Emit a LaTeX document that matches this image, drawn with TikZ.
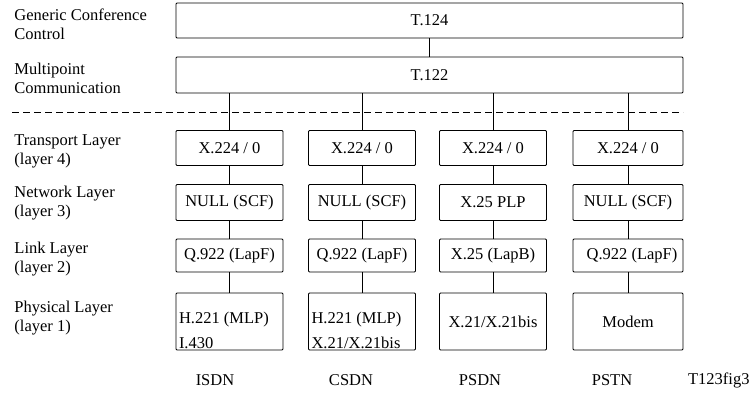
\documentclass[tikz,border=0pt]{standalone}
\usepackage{fontspec}
\setmainfont{Liberation Serif}
\usetikzlibrary{positioning}

\begin{document}
\begin{tikzpicture}[x=1pt, y=-1pt, line width=0.9pt,
	every node/.style={font=\fontsize{16.5}{19}\selectfont},
	proto/.style={draw, rounded corners=1pt, minimum width=107pt, minimum height=35pt, inner sep=2pt},
	phys/.style={proto, minimum height=57pt},
	phystext/.style={anchor=south west, align=left, inner xsep=3pt, inner ysep=1pt, font=\fontsize{16.5}{25}\selectfont},
	layer/.style={anchor=west, align=left, inner sep=0pt},
	net/.style={inner sep=0pt}]
	\useasboundingbox (0,0) rectangle (751,393);
	% Upper part: conference control and multipoint communication
	\node[proto, minimum width=507pt] (t124) at (429.5, 20.5) {T.124};
	\node[proto, minimum width=507pt, minimum height=36pt] (t122) at (429.5, 75) {T.122};
	\draw (t124) -- (t122);
	\draw[dash pattern=on 7pt off 4pt] (12, 112) -- (683, 112);
	% Layer names
	\node[layer] (lgcc) at (14, 24) {Generic Conference\\Control};
	\node[layer] (lmcs) at (14, 78) {Multipoint\\Communication};
	\node[layer] (ltra) at (14, 151) {Transport Layer\\(layer 4)};
	\node[layer] (lnet) at (14, 203) {Network Layer\\(layer 3)};
	\node[layer] (llnk) at (14, 259) {Link Layer\\(layer 2)};
	\node[layer] (lphy) at (14, 318) {Physical Layer\\(layer 1)};
	% Column 1: ISDN
	\node[proto] (tp1) at (229.5, 148) {X.224 / 0};
	\node[proto, minimum height=36pt] (nw1) at (229.5, 202.5) {NULL (SCF)};
	\node[proto, minimum height=33pt] (lk1) at (229.5, 255.5) {Q.922 (LapF)};
	\node[phys] (ph1) at (229.5, 321.5) {};
	\node[phystext] (ph1t) at (ph1.south west) {H.221 (MLP)\\I.430};
	\node[net] (isdn) at (215, 380) {ISDN};
	% Column 2: CSDN
	\node[proto] (tp2) at (362, 148) {X.224 / 0};
	\node[proto, minimum height=36pt] (nw2) at (362, 202.5) {NULL (SCF)};
	\node[proto, minimum height=33pt] (lk2) at (362, 255.5) {Q.922 (LapF)};
	\node[phys] (ph2) at (362, 321.5) {};
	\node[phystext] (ph2t) at (ph2.south west) {H.221 (MLP)\\X.21/X.21bis};
	\node[net] (csdn) at (351, 380) {CSDN};
	% Column 3: PSDN
	\node[proto] (tp3) at (493, 148) {X.224 / 0};
	\node[proto, minimum height=36pt] (nw3) at (493, 202.5) {X.25 PLP};
	\node[proto, minimum height=33pt] (lk3) at (493, 255.5) {X.25 (LapB)};
	\node[phys] (ph3) at (493, 321.5) {X.21/X.21bis};
	\node[net] (psdn) at (480, 380) {PSDN};
	% Column 4: PSTN
	\node[proto, minimum width=110pt] (tp4) at (628, 148) {X.224 / 0};
	\node[proto, minimum width=110pt, minimum height=36pt] (nw4) at (628, 202.5) {NULL (SCF)};
	\node[proto, minimum width=110pt, minimum height=33pt] (lk4) at (628, 255.5) {\hspace*{8pt}Q.922 (LapF)};
	\node[phys, minimum width=110pt] (ph4) at (628, 321.5) {Modem};
	\node[net] (pstn) at (612, 380) {PSTN};
	\node[net, anchor=east] (fig) at (750, 380) {T123fig3};
	% Connectors
	\draw (tp1.north |- t122.south) -- (tp1) -- (nw1) -- (lk1) -- (ph1);
	\draw (tp2.north |- t122.south) -- (tp2) -- (nw2) -- (lk2) -- (ph2);
	\draw (tp3.north |- t122.south) -- (tp3) -- (nw3) -- (lk3) -- (ph3);
	\draw (tp4.north |- t122.south) -- (tp4) -- (nw4) -- (lk4) -- (ph4);
\end{tikzpicture}
\end{document}
